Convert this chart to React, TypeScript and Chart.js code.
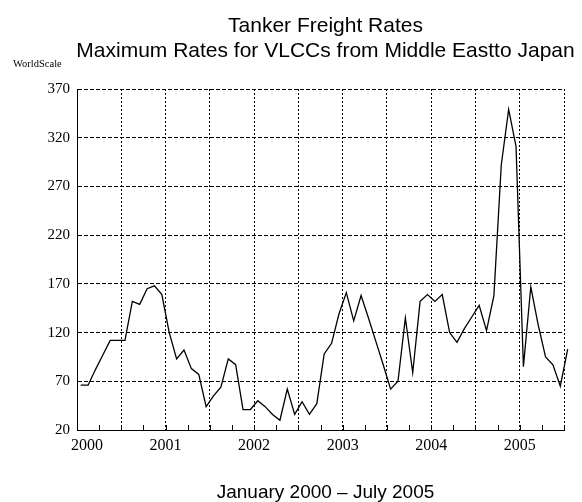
import React, { useEffect, useRef } from 'react';
import { Chart, registerables } from 'chart.js';

Chart.register(...registerables);

// Monthly maximum rates (WorldScale), January 2000 – July 2005
const rates: number[] = [
  66, 66, 82, 97, 112, 112, 112, 152, 149, 165, 168, 159,
  120, 93, 102, 83, 77, 44, 55, 64, 93, 87, 41, 41,
  50, 44, 36, 30, 62, 36, 49, 36, 47, 98, 109, 139,
  161, 132, 158, 135, 111, 87, 62, 70, 135, 79, 152, 159,
  152, 159, 120, 110, 124, 136, 148, 122, 158, 292, 349, 311,
  85, 167, 128, 95, 87, 65, 103,
];
const yearLabels: string[] = ['2000', '2001', '2002', '2003', '2004', '2005'];
const titleLines: string[] = ['Tanker Freight Rates', 'Maximum Rates for VLCCs from Middle Eastto Japan'];
const yAxisLabel = 'WorldScale';
const xAxisTitle = 'January 2000 \u2013 July 2005';
const yMin = 20;
const yMax = 370;
const yStep = 50;
const monthsSpan = 66;

const decor = {
  id: 'decor',
  afterDraw(chart: any) {
    const { ctx, chartArea: a, scales } = chart;
    const x = scales.x;
    const cx = (a.left + a.right) / 2 + 5;
    ctx.save();
    ctx.fillStyle = '#000';
    ctx.textAlign = 'center';
    ctx.textBaseline = 'alphabetic';
    ctx.font = '21px "Liberation Sans", Arial, sans-serif';
    ctx.fillText(titleLines[0], cx, 32);
    ctx.fillText(titleLines[1], cx, 57);
    ctx.font = '10.5px "Liberation Serif", serif';
    ctx.textAlign = 'left';
    ctx.textBaseline = 'middle';
    ctx.fillText(yAxisLabel, 13, 64);
    // quarterly minor ticks
    ctx.strokeStyle = '#000';
    ctx.lineWidth = 1;
    for (let m = 0; m <= monthsSpan; m += 3) {
      const px = Math.round(x.getPixelForValue(m)) + 0.5;
      ctx.beginPath();
      ctx.moveTo(px, a.bottom);
      ctx.lineTo(px, a.bottom - 5);
      ctx.stroke();
    }
    // year labels
    ctx.font = '16px "Liberation Serif", serif';
    ctx.textAlign = 'center';
    ctx.textBaseline = 'alphabetic';
    yearLabels.forEach((lab, k) => {
      let px = x.getPixelForValue(12 * k);
      if (k === 0) px += 10;
      ctx.fillText(lab, px, 450);
    });
    ctx.font = '19px "Liberation Sans", Arial, sans-serif';
    ctx.fillText(xAxisTitle, cx, 498);
    ctx.restore();
  },
};

export default function App() {
  const ref = useRef<HTMLCanvasElement | null>(null);
  useEffect(() => {
    if (!ref.current) return;
    const chart = new Chart(ref.current, {
      type: 'line',
      data: {
        datasets: [
          {
            data: rates.map((v, i) => ({ x: i + 0.5, y: v })),
            borderColor: '#000',
            borderWidth: 1.3,
            pointRadius: 0,
            tension: 0,
            fill: false,
            clip: false as any,
          },
        ],
      },
      options: {
        responsive: false,
        animation: false,
        devicePixelRatio: 1,
        layout: { padding: { left: 0, right: 18, top: 89, bottom: 0 } },
        plugins: {
          legend: { display: false },
          title: { display: false },
          tooltip: { enabled: false },
        },
        scales: {
          x: {
            type: 'linear',
            min: 0,
            max: monthsSpan,
            afterFit(s: any) {
              s.height = 72;
            },
            ticks: { stepSize: 6, display: false },
            grid: { color: '#000', lineWidth: 1, drawTicks: false },
            border: { display: true, color: '#000', dash: [2, 2] },
          },
          y: {
            min: yMin,
            max: yMax,
            afterFit(s: any) {
              s.width = 77;
            },
            ticks: {
              stepSize: yStep,
              color: '#000',
              padding: 7,
              font: { family: '"Liberation Serif", serif', size: 15 },
            },
            grid: { color: '#000', lineWidth: 1, drawTicks: false },
            border: { display: true, color: '#000', dash: [4, 2] },
          },
        },
      } as any,
      plugins: [decor],
    });
    return () => chart.destroy();
  }, []);
  return (
    <div style={{ position: 'absolute', left: 0, top: 0, width: 582, height: 502, background: '#fff' }}>
      <canvas ref={ref} width={582} height={502} />
    </div>
  );
}
